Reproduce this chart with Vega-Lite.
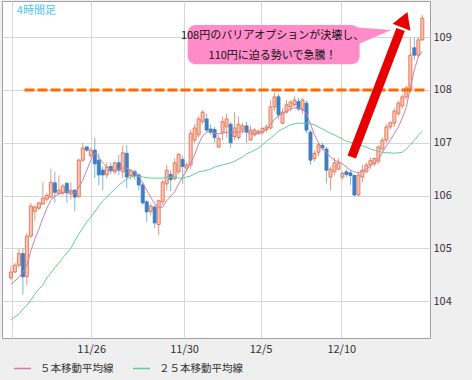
{
"$schema": "https://vega.github.io/schema/vega-lite/v6.json",
"width": 428, "height": 337,
"autosize": {"type": "none"},
"padding": {"left": 2, "top": 1, "right": 42, "bottom": 42},
"background": "#efefef",
"config": {"view": {"fill": "#ffffff", "stroke": "#a0a0a0", "strokeWidth": 1}, "font": "Noto Sans CJK JP"},
"data": {"values": [
{"i":0,"o":104.44,"h":104.66,"l":104.40,"c":104.55,"m5":104.32,"m25":103.64},
{"i":1,"o":104.55,"h":104.72,"l":104.53,"c":104.68,"m5":104.38,"m25":103.70},
{"i":2,"o":104.68,"h":104.99,"l":104.62,"c":104.90,"m5":104.45,"m25":103.75},
{"i":3,"o":104.90,"h":105.00,"l":104.12,"c":104.46,"m5":104.55,"m25":103.85},
{"i":4,"o":104.46,"h":105.29,"l":104.30,"c":105.23,"m5":104.68,"m25":103.92},
{"i":5,"o":105.23,"h":105.86,"l":105.20,"c":105.80,"m5":104.95,"m25":104.02},
{"i":6,"o":105.70,"h":105.82,"l":105.52,"c":105.78,"m5":105.18,"m25":104.13},
{"i":7,"o":105.76,"h":105.88,"l":105.72,"c":105.86,"m5":105.36,"m25":104.23},
{"i":8,"o":105.84,"h":106.25,"l":105.82,"c":105.95,"m5":105.57,"m25":104.30},
{"i":9,"o":105.93,"h":106.05,"l":105.88,"c":106.00,"m5":105.76,"m25":104.44},
{"i":10,"o":105.97,"h":106.50,"l":105.95,"c":106.25,"m5":105.91,"m25":104.53},
{"i":11,"o":106.24,"h":106.45,"l":105.86,"c":106.06,"m5":105.99,"m25":104.64},
{"i":12,"o":106.04,"h":106.38,"l":106.00,"c":106.10,"m5":106.03,"m25":104.72},
{"i":13,"o":106.05,"h":106.22,"l":106.00,"c":106.18,"m5":106.05,"m25":104.82},
{"i":14,"o":106.23,"h":106.25,"l":105.86,"c":106.05,"m5":106.07,"m25":104.91},
{"i":15,"o":106.03,"h":106.25,"l":105.92,"c":106.10,"m5":106.07,"m25":105.00},
{"i":16,"o":106.10,"h":106.12,"l":105.70,"c":105.97,"m5":106.05,"m25":105.14},
{"i":17,"o":105.98,"h":106.70,"l":105.95,"c":106.67,"m5":106.16,"m25":105.27},
{"i":18,"o":106.67,"h":107.00,"l":106.63,"c":106.90,"m5":106.29,"m25":105.38},
{"i":19,"o":106.92,"h":106.94,"l":106.82,"c":106.86,"m5":106.48,"m25":105.50},
{"i":20,"o":106.76,"h":106.90,"l":106.71,"c":106.86,"m5":106.67,"m25":105.59},
{"i":21,"o":106.86,"h":107.10,"l":106.33,"c":106.60,"m5":106.81,"m25":105.69},
{"i":22,"o":106.67,"h":106.80,"l":106.20,"c":106.39,"m5":106.73,"m25":105.80},
{"i":23,"o":106.48,"h":106.55,"l":106.10,"c":106.39,"m5":106.62,"m25":105.90},
{"i":24,"o":106.39,"h":106.63,"l":106.33,"c":106.54,"m5":106.54,"m25":105.97},
{"i":25,"o":106.55,"h":106.62,"l":106.40,"c":106.47,"m5":106.50,"m25":106.05},
{"i":26,"o":106.45,"h":106.65,"l":106.40,"c":106.62,"m5":106.48,"m25":106.12},
{"i":27,"o":106.62,"h":106.77,"l":106.39,"c":106.48,"m5":106.50,"m25":106.20},
{"i":28,"o":106.45,"h":106.95,"l":106.33,"c":106.81,"m5":106.52,"m25":106.26},
{"i":29,"o":106.80,"h":106.96,"l":106.14,"c":106.35,"m5":106.52,"m25":106.31},
{"i":30,"o":106.38,"h":106.50,"l":106.30,"c":106.47,"m5":106.48,"m25":106.35},
{"i":31,"o":106.45,"h":106.50,"l":106.30,"c":106.37,"m5":106.43,"m25":106.37},
{"i":32,"o":106.39,"h":106.42,"l":106.10,"c":106.20,"m5":106.37,"m25":106.37},
{"i":33,"o":106.20,"h":106.25,"l":105.82,"c":105.86,"m5":106.24,"m25":106.35},
{"i":34,"o":105.88,"h":105.91,"l":105.50,"c":105.69,"m5":106.10,"m25":106.34},
{"i":35,"o":105.70,"h":105.84,"l":105.62,"c":105.80,"m5":105.97,"m25":106.33},
{"i":36,"o":105.78,"h":105.82,"l":105.38,"c":105.48,"m5":105.84,"m25":106.33},
{"i":37,"o":105.45,"h":105.92,"l":105.25,"c":105.90,"m5":105.78,"m25":106.33},
{"i":38,"o":105.88,"h":106.30,"l":105.82,"c":106.25,"m5":105.78,"m25":106.33},
{"i":39,"o":106.22,"h":106.58,"l":106.10,"c":106.48,"m5":105.90,"m25":106.35},
{"i":40,"o":106.40,"h":106.48,"l":106.08,"c":106.30,"m5":105.99,"m25":106.35},
{"i":41,"o":106.32,"h":106.70,"l":106.28,"c":106.62,"m5":106.07,"m25":106.35},
{"i":42,"o":106.45,"h":106.80,"l":106.40,"c":106.78,"m5":106.22,"m25":106.33},
{"i":43,"o":106.68,"h":106.75,"l":106.22,"c":106.55,"m5":106.35,"m25":106.33},
{"i":44,"o":106.52,"h":106.63,"l":106.45,"c":106.58,"m5":106.48,"m25":106.35},
{"i":45,"o":106.58,"h":107.25,"l":106.50,"c":107.18,"m5":106.62,"m25":106.37},
{"i":46,"o":107.05,"h":107.35,"l":107.00,"c":107.28,"m5":106.77,"m25":106.41},
{"i":47,"o":107.15,"h":107.50,"l":107.10,"c":107.45,"m5":106.98,"m25":106.45},
{"i":48,"o":107.40,"h":107.62,"l":107.35,"c":107.58,"m5":107.13,"m25":106.46},
{"i":49,"o":107.45,"h":107.55,"l":107.20,"c":107.24,"m5":107.20,"m25":106.48},
{"i":50,"o":107.26,"h":107.35,"l":107.15,"c":107.20,"m5":107.20,"m25":106.50},
{"i":51,"o":107.25,"h":107.30,"l":107.00,"c":107.10,"m5":107.18,"m25":106.54},
{"i":52,"o":106.92,"h":107.15,"l":106.90,"c":107.08,"m5":107.17,"m25":106.56},
{"i":53,"o":107.20,"h":107.50,"l":107.05,"c":107.40,"m5":107.18,"m25":106.58},
{"i":54,"o":107.30,"h":107.55,"l":107.10,"c":107.45,"m5":107.20,"m25":106.60},
{"i":55,"o":107.35,"h":107.40,"l":106.90,"c":107.00,"m5":107.20,"m25":106.62},
{"i":56,"o":107.12,"h":107.58,"l":107.05,"c":107.28,"m5":107.20,"m25":106.65},
{"i":57,"o":107.10,"h":107.50,"l":107.05,"c":107.35,"m5":107.20,"m25":106.69},
{"i":58,"o":107.25,"h":107.38,"l":107.18,"c":107.32,"m5":107.22,"m25":106.73},
{"i":59,"o":107.32,"h":107.40,"l":107.00,"c":107.20,"m5":107.20,"m25":106.79},
{"i":60,"o":107.05,"h":107.33,"l":107.05,"c":107.24,"m5":107.18,"m25":106.82},
{"i":61,"o":107.15,"h":107.28,"l":107.12,"c":107.24,"m5":107.18,"m25":106.86},
{"i":62,"o":107.18,"h":107.25,"l":107.15,"c":107.22,"m5":107.18,"m25":106.90},
{"i":63,"o":107.20,"h":107.30,"l":107.15,"c":107.27,"m5":107.20,"m25":106.96},
{"i":64,"o":107.25,"h":107.35,"l":107.20,"c":107.30,"m5":107.26,"m25":107.03},
{"i":65,"o":107.28,"h":107.81,"l":107.25,"c":107.68,"m5":107.34,"m25":107.09},
{"i":66,"o":107.68,"h":107.95,"l":107.60,"c":107.87,"m5":107.45,"m25":107.15},
{"i":67,"o":107.87,"h":107.93,"l":107.45,"c":107.53,"m5":107.51,"m25":107.22},
{"i":68,"o":107.37,"h":107.65,"l":107.35,"c":107.58,"m5":107.56,"m25":107.26},
{"i":69,"o":107.58,"h":107.81,"l":107.55,"c":107.72,"m5":107.60,"m25":107.30},
{"i":70,"o":107.68,"h":107.80,"l":107.60,"c":107.77,"m5":107.64,"m25":107.34},
{"i":71,"o":107.72,"h":107.88,"l":107.68,"c":107.81,"m5":107.66,"m25":107.36},
{"i":72,"o":107.78,"h":107.85,"l":107.60,"c":107.64,"m5":107.66,"m25":107.37},
{"i":73,"o":107.62,"h":107.85,"l":107.55,"c":107.81,"m5":107.64,"m25":107.37},
{"i":74,"o":107.75,"h":107.80,"l":107.18,"c":107.24,"m5":107.55,"m25":107.37},
{"i":75,"o":107.20,"h":107.25,"l":106.58,"c":106.67,"m5":107.36,"m25":107.36},
{"i":76,"o":106.70,"h":106.85,"l":106.65,"c":106.80,"m5":107.15,"m25":107.34},
{"i":77,"o":106.82,"h":107.00,"l":106.75,"c":106.96,"m5":107.00,"m25":107.30},
{"i":78,"o":106.95,"h":107.00,"l":106.85,"c":106.90,"m5":106.90,"m25":107.26},
{"i":79,"o":106.88,"h":106.92,"l":106.23,"c":106.48,"m5":106.82,"m25":107.22},
{"i":80,"o":106.35,"h":106.55,"l":106.10,"c":106.50,"m5":106.73,"m25":107.18},
{"i":81,"o":106.45,"h":106.72,"l":106.38,"c":106.62,"m5":106.67,"m25":107.15},
{"i":82,"o":106.50,"h":106.70,"l":106.48,"c":106.62,"m5":106.64,"m25":107.11},
{"i":83,"o":106.35,"h":106.45,"l":106.30,"c":106.42,"m5":106.60,"m25":107.07},
{"i":84,"o":106.45,"h":106.50,"l":106.35,"c":106.40,"m5":106.54,"m25":107.03},
{"i":85,"o":106.43,"h":106.48,"l":106.20,"c":106.38,"m5":106.48,"m25":107.01},
{"i":86,"o":106.38,"h":106.40,"l":105.98,"c":106.01,"m5":106.45,"m25":107.00},
{"i":87,"o":106.01,"h":106.45,"l":105.99,"c":106.39,"m5":106.43,"m25":106.98},
{"i":88,"o":106.35,"h":106.58,"l":106.25,"c":106.48,"m5":106.46,"m25":106.94},
{"i":89,"o":106.45,"h":106.62,"l":106.43,"c":106.58,"m5":106.50,"m25":106.92},
{"i":90,"o":106.58,"h":106.72,"l":106.50,"c":106.66,"m5":106.56,"m25":106.88},
{"i":91,"o":106.60,"h":106.72,"l":106.55,"c":106.70,"m5":106.62,"m25":106.86},
{"i":92,"o":106.65,"h":106.95,"l":106.60,"c":106.92,"m5":106.69,"m25":106.84},
{"i":93,"o":106.88,"h":107.10,"l":106.85,"c":107.05,"m5":106.81,"m25":106.82},
{"i":94,"o":107.05,"h":107.35,"l":107.00,"c":107.30,"m5":106.94,"m25":106.81},
{"i":95,"o":107.30,"h":107.40,"l":107.25,"c":107.38,"m5":107.05,"m25":106.81},
{"i":96,"o":107.37,"h":107.65,"l":107.30,"c":107.60,"m5":107.18,"m25":106.80},
{"i":97,"o":107.55,"h":107.80,"l":107.50,"c":107.75,"m5":107.30,"m25":106.81},
{"i":98,"o":107.70,"h":107.92,"l":107.65,"c":107.87,"m5":107.47,"m25":106.82},
{"i":99,"o":107.87,"h":108.08,"l":107.82,"c":108.04,"m5":107.68,"m25":106.88},
{"i":100,"o":108.00,"h":108.99,"l":107.95,"c":108.66,"m5":108.04,"m25":106.96},
{"i":101,"o":108.80,"h":108.99,"l":108.57,"c":108.66,"m5":108.38,"m25":107.05},
{"i":102,"o":108.66,"h":108.99,"l":108.62,"c":108.95,"m5":108.63,"m25":107.14},
{"i":103,"o":108.95,"h":109.42,"l":108.93,"c":109.36,"m5":108.73,"m25":107.22}
]},
"layer": [
{"mark": {"type": "rule", "strokeWidth": 1},
 "encoding": {
  "x": {"field": "i", "type": "quantitative", "title": null,
        "scale": {"domain": [-0.978, 103.67], "nice": false, "zero": false},
        "axis": {"orient": "bottom", "values": [0.24, 20.1, 43.35, 62.5, 82.7], "labelExpr": "datum.value < 10 ? '' : datum.value < 30 ? '11/26' : datum.value < 50 ? '11/30' : datum.value < 70 ? '12/5' : '12/10'", "ticks": false, "domain": false, "grid": true, "gridColor": "#d6d6d6", "gridWidth": 1, "labelFontSize": 11, "labelColor": "#333333", "labelPadding": 5, "labelOverlap": false, "labelFlush": false}},
  "y": {"field": "l", "type": "quantitative", "title": null,
        "scale": {"domain": [103.299, 109.687], "nice": false, "zero": false},
        "axis": {"orient": "right", "values": [104, 105, 106, 107, 108, 109], "format": "d", "ticks": false, "domain": false, "grid": true, "gridColor": "#d6d6d6", "gridWidth": 1, "labelFontSize": 11, "labelColor": "#333333", "labelPadding": 3}},
  "y2": {"field": "h"},
  "color": {"condition": {"test": "datum.c >= datum.o", "value": "#ea9580"}, "value": "#7fb2df"}
 }},
{"mark": {"type": "bar", "size": 3, "strokeWidth": 0.9},
 "encoding": {
  "x": {"field": "i", "type": "quantitative", "title": null},
  "y": {"field": "o", "type": "quantitative", "title": null},
  "y2": {"field": "c"},
  "fill": {"condition": {"test": "datum.c >= datum.o", "value": "#f7c6b8"}, "value": "#3b7fc4"},
  "stroke": {"condition": {"test": "datum.c >= datum.o", "value": "#e2714f"}, "value": "#3b7fc4"}
 }},
{"mark": {"type": "line", "strokeWidth": 1},
 "encoding": {
  "x": {"field": "i", "type": "quantitative", "title": null},
  "y": {"field": "m25", "type": "quantitative", "title": null},
  "color": {"datum": "２５本移動平均線", "type": "nominal",
            "scale": {"domain": ["５本移動平均線", "２５本移動平均線"], "range": ["#cc7fa3", "#5fcc99"]},
            "legend": {"orient": "none", "legendX": 11, "legendY": 358, "direction": "horizontal", "title": null, "symbolType": "stroke", "symbolSize": 289, "symbolStrokeWidth": 1.5, "labelFontSize": 10.5, "labelColor": "#333333", "labelOffset": 8, "columnPadding": 16, "padding": 0}}
 }},
{"mark": {"type": "line", "strokeWidth": 1},
 "encoding": {
  "x": {"field": "i", "type": "quantitative", "title": null},
  "y": {"field": "m5", "type": "quantitative", "title": null},
  "color": {"datum": "５本移動平均線", "type": "nominal"}
 }},
{"data": {"values": [{}]},
 "mark": {"type": "rule", "color": "#ff6a00", "strokeWidth": 3, "strokeDash": [10, 3]},
 "encoding": {
  "x": {"datum": 3.4, "type": "quantitative"},
  "x2": {"datum": 103.67},
  "y": {"datum": 108, "type": "quantitative"}
 }},
{"data": {"values": [{}]},
 "mark": {"type": "rule", "color": "#e60000", "strokeWidth": 9},
 "encoding": {
  "x": {"datum": 85.33, "type": "quantitative"},
  "x2": {"datum": 97.56},
  "y": {"datum": 106.73, "type": "quantitative"},
  "y2": {"datum": 109.147}
 }},
{"data": {"values": [{}]},
 "mark": {"type": "point", "shape": "triangle-up", "filled": true, "size": 361, "angle": 21, "color": "#e60000", "opacity": 1, "strokeWidth": 0},
 "encoding": {
  "x": {"datum": 98.53, "type": "quantitative"},
  "y": {"datum": 109.335, "type": "quantitative"}
 }},
{"data": {"values": [{}]},
 "mark": {"type": "point", "shape": "M -1 -0.475 L 1 -0.325 L -0.85 0.475 Z", "filled": true, "size": 1600, "color": "#ff8cc8", "opacity": 1, "strokeWidth": 0},
 "encoding": {
  "x": {"datum": 90.2, "type": "quantitative"},
  "y": {"datum": 109.014, "type": "quantitative"}
 }},
{"data": {"values": [{}]},
 "mark": {"type": "rect", "color": "#ff8cc8", "cornerRadius": 8},
 "encoding": {
  "x": {"datum": 44.25, "type": "quantitative"},
  "x2": {"datum": 87.3},
  "y": {"datum": 109.23, "type": "quantitative"},
  "y2": {"datum": 108.49}
 }},
{"data": {"values": [{}]},
 "mark": {"type": "text", "fontSize": 11, "color": "#111111", "align": "center", "baseline": "middle"},
 "encoding": {
  "x": {"datum": 65.5, "type": "quantitative"},
  "y": {"datum": 109.02, "type": "quantitative"},
  "text": {"value": "108円のバリアオプションが決壊し、"}
 }},
{"data": {"values": [{}]},
 "mark": {"type": "text", "fontSize": 11, "color": "#111111", "align": "center", "baseline": "middle"},
 "encoding": {
  "x": {"datum": 65.5, "type": "quantitative"},
  "y": {"datum": 108.64, "type": "quantitative"},
  "text": {"value": "110円に迫る勢いで急騰！"}
 }},
{"data": {"values": [{}]},
 "mark": {"type": "text", "fontSize": 11, "color": "#4fc3ee", "align": "left", "baseline": "middle"},
 "encoding": {
  "x": {"datum": 1.47, "type": "quantitative"},
  "y": {"datum": 109.5, "type": "quantitative"},
  "text": {"value": "4時間足"}
 }}
]
}
